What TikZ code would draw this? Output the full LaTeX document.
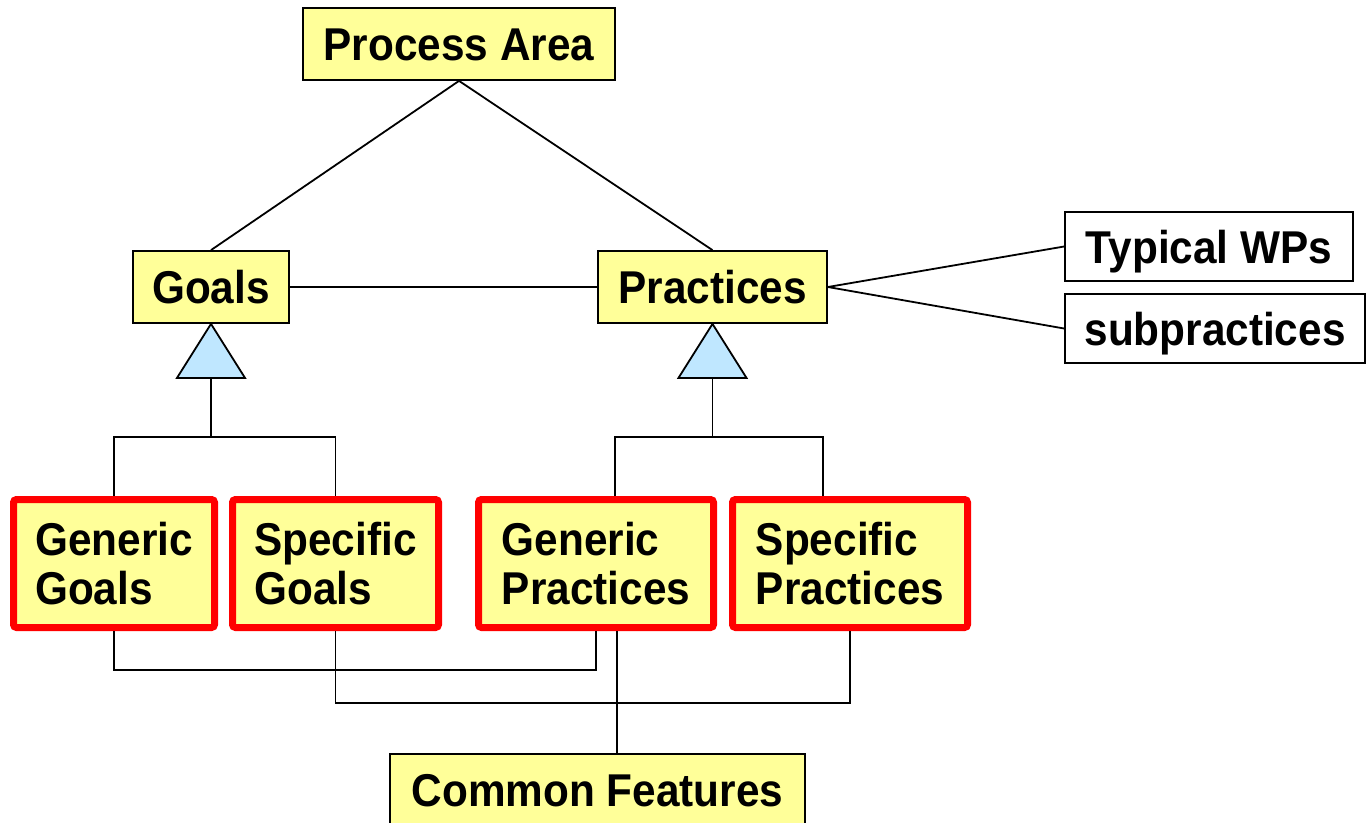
\documentclass[tikz,border=0pt]{standalone}
\usepackage{fontspec}
\setmainfont{Liberation Sans}[FakeStretch=0.92]
\usepackage{xcolor}
\usepackage{tikz}
\usetikzlibrary{calc}

\definecolor{boxyellow}{RGB}{255,255,153}
\definecolor{triblue}{RGB}{191,231,255}

\begin{document}
\begin{tikzpicture}[x=1pt,y=-1pt,line width=1.8pt,
		every node/.style={font=\fontsize{46}{49}\selectfont\bfseries},
		ybox/.style={draw,fill=boxyellow,inner sep=0pt,minimum height=72pt,text height=33pt,text depth=0pt},
		wbox/.style={draw,fill=white,inner sep=0pt,minimum height=69pt,text height=33pt,text depth=0pt},
		redbox/.style={draw=red,line width=7pt,fill=boxyellow,rounded corners=3pt,inner sep=0pt,minimum height=128pt,align=left},
		triangle/.style={draw,fill=triblue,line join=miter}]
			\useasboundingbox (0,0) rectangle (1367,822);
			% upper boxes
			\node[ybox,minimum width=312pt] (area) at (459,44) {Process Area};
			\node[ybox,minimum width=156pt] (goals) at (211,287) {Goals};
			\node[ybox,minimum width=229pt] (practices) at (712.5,287) {Practices};
			\node[wbox,minimum width=288pt] (wps) at (1209,246.5) {Typical WPs};
			\node[wbox,minimum width=300pt] (subprac) at (1215,328.5) {subpractices};
			% red boxes
			\node[redbox,minimum width=201pt] (gengoals) at (114,563.5) {Generic\\Goals};
			\node[redbox,minimum width=206pt] (specgoals) at (335.5,563.5) {Specific\\Goals};
			\node[redbox,minimum width=235pt] (genprac) at (596,563.5) {Generic\\Practices};
			\node[redbox,minimum width=235pt] (specprac) at (850,563.5) {Specific\\Practices};
			\node[ybox,minimum width=415pt] (common) at (597.5,790) {Common Features};
			% links
			\draw (area.south) -- (goals.north);
			\draw (area.south) -- (practices.north);
			\draw (goals.east) -- (practices.west);
			\draw (practices.east) -- (wps.west);
			\draw (practices.east) -- (subprac.west);
			% generalisation
			\draw[triangle] (goals.south) -- ++(34,54) -- ++(-68,0) -- cycle;
			\draw[triangle] (practices.south) -- ++(34,54) -- ++(-68,0) -- cycle;
			\coordinate (gtri) at ($(goals.south)+(0,54)$);
			\coordinate (ptri) at ($(practices.south)+(0,54)$);
			\coordinate (gjoin) at ($(gtri)+(0,59)$);
			\coordinate (pjoin) at ($(ptri)+(0,59)$);
			\draw (gtri) -- (gjoin);
			\draw (ptri) -- (pjoin);
			\draw (gengoals.north) |- (gjoin) -| (specgoals.north);
			\draw ([xshift=19pt]genprac.north) |- (pjoin) -| ([xshift=-27pt]specprac.north);
			% lower links
			\draw (gengoals.south) -- ++(0,39) -| (genprac.south);
			\draw (specgoals.south) -- ++(0,72) -| (specprac.south);
			\draw ([xshift=21pt]genprac.south) -- ([xshift=21pt]genprac.south |- common.north);
		\end{tikzpicture}
\end{document}
